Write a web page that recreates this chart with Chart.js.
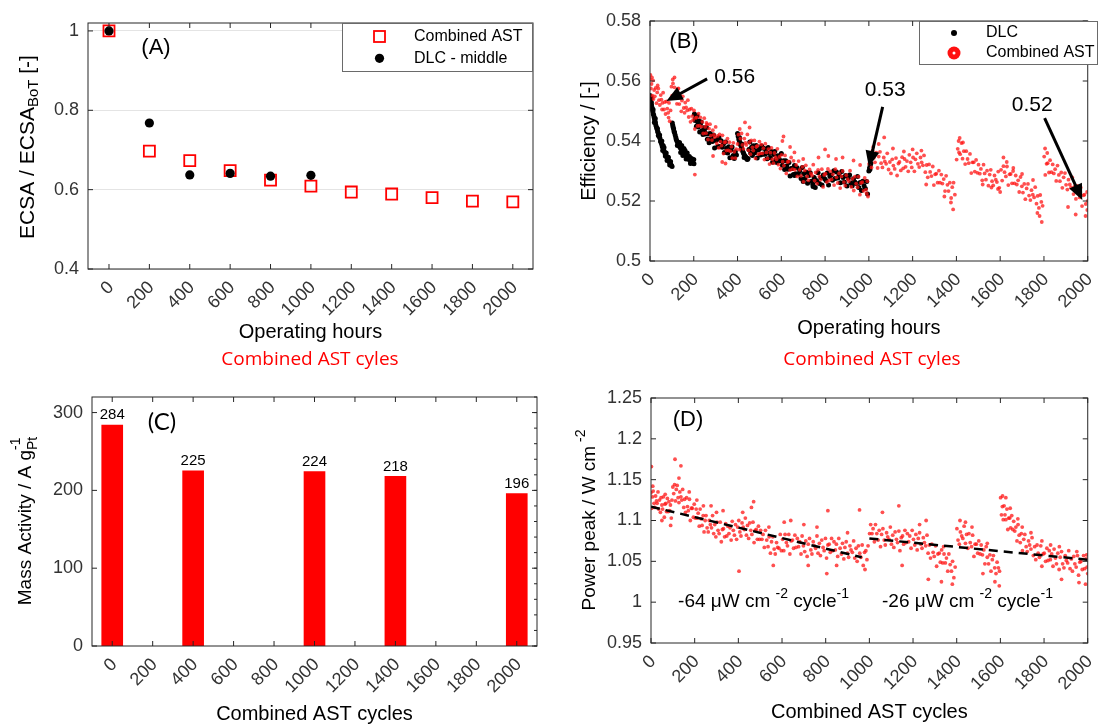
<!DOCTYPE html>
<html>
<head>
<meta charset="utf-8">
<script src="https://cdn.jsdelivr.net/npm/chart.js@4.4.1/dist/chart.umd.min.js"></script>
<style>
  body { margin: 0; background: #fff; width: 1111px; height: 724px; overflow: hidden; position: relative; }
  canvas { position: absolute; }
</style>
</head>
<body>
<canvas id="chartA" width="555" height="370" style="left:0;top:0"></canvas>
<canvas id="chartB" width="556" height="370" style="left:555px;top:0"></canvas>
<canvas id="chartC" width="555" height="354" style="left:0;top:370px"></canvas>
<canvas id="chartD" width="556" height="354" style="left:555px;top:370px"></canvas>
<script>
// ---- data ----
const hourTicks = [0, 200, 400, 600, 800, 1000, 1200, 1400, 1600, 1800, 2000];

// (A) ECSA normalised
const ecsaHours = [0, 200, 400, 600, 800, 1000, 1200, 1400, 1600, 1800, 2000];
const ecsaAST = [1.0, 0.697, 0.673, 0.648, 0.624, 0.609, 0.594, 0.589, 0.580, 0.571, 0.569];
const ecsaDLCHours = [0, 200, 400, 600, 800, 1000];
const ecsaDLC = [1.0, 0.768, 0.637, 0.641, 0.634, 0.636];
const ecsaTicks = [0.4, 0.6, 0.8, 1];

// (B) efficiency, [hours, efficiency]
const effTicks = [0.5, 0.52, 0.54, 0.56, 0.58];
const effDLC = [
  [0,.5552],[1,.5545],[3,.5538],[4,.5530],[6,.5528],[7,.5520],[9,.5512],[11,.5505],[13,.5498],[15,.5490],
  [17,.5486],[19,.5478],[21,.5472],[23,.5466],[25,.5460],[27,.5452],[30,.5445],[32,.5440],[35,.5432],[37,.5428],
  [40,.5420],[42,.5415],[45,.5410],[48,.5400],[50,.5396],[53,.5390],[56,.5382],[59,.5378],[62,.5370],[65,.5366],
  [68,.5360],[71,.5355],[74,.5350],[77,.5345],[80,.5342],[83,.5338],[86,.5334],[89,.5330],[92,.5326],[95,.5322],
  [98,.5318],[101,.5315],[5,.5542],[14,.5505],[24,.5475],[34,.5442],[44,.5420],[54,.5400],[64,.5378],[74,.5360],
  [84,.5346],[94,.5332],[60,.5385],[70,.5350],[20,.5462],[38,.5418],[58,.5368],[78,.5335],[90,.5320],
  [102,.5460],[104,.5452],[106,.5445],[108,.5440],[110,.5432],[112,.5428],[115,.5420],[118,.5412],[120,.5405],[123,.5400],
  [126,.5395],[129,.5390],[132,.5385],[135,.5382],[138,.5378],[141,.5375],[144,.5372],[147,.5368],[150,.5365],[153,.5362],
  [156,.5358],[159,.5355],[162,.5352],[165,.5350],[168,.5348],[171,.5345],[174,.5342],[177,.5340],[180,.5338],[183,.5335],
  [186,.5333],[189,.5332],[192,.5330],[195,.5328],[198,.5326],[201,.5324],[125,.5385],[135,.5395],[145,.5385],[150,.5352],
  [160,.5368],[165,.5340],[170,.5360],[180,.5348],[185,.5325],[190,.5342],[200,.5338],[140,.5362],[155,.5375],
  [203,.5490],[206,.5468],[209,.5477],[212,.5449],[215,.5484],[218,.5463],[221,.5447],[224,.5467],[227,.5430],[230,.5455],
  [234,.5463],[238,.5434],[242,.5422],[246,.5444],[250,.5431],[254,.5423],[258,.5445],[262,.5406],[266,.5423],[270,.5394],
  [275,.5425],[280,.5408],[285,.5398],[290,.5420],[295,.5377],[300,.5402],[305,.5404],[310,.5382],[315,.5411],[320,.5382],
  [325,.5401],[330,.5379],[335,.5389],[340,.5362],[345,.5397],[350,.5376],[355,.5360],[360,.5381],[365,.5344],[370,.5370],
  [375,.5380],[380,.5352],[385,.5342],[390,.5364],[395,.5353],
  [400,.5425],[403,.5415],[406,.5405],[409,.5398],[412,.5390],[415,.5385],[418,.5378],[421,.5372],[424,.5365],[427,.5360],
  [430,.5355],[433,.5350],[436,.5348],[439,.5345],[442,.5340],[445,.5338],[448,.5342],[410,.5410],[420,.5390],[430,.5345],
  [452,.5372],[456,.5397],[460,.5360],[464,.5379],[468,.5352],[472,.5384],[476,.5369],[480,.5361],[485,.5385],[490,.5343],
  [495,.5370],[500,.5373],[505,.5353],[510,.5383],[515,.5356],[520,.5376],[525,.5356],[530,.5367],[535,.5341],[540,.5378],
  [545,.5358],[550,.5344],[555,.5365],[560,.5329],[565,.5355],[570,.5365],[575,.5338],[580,.5328],[585,.5351],[590,.5340],
  [595,.5334],[600,.5358],[605,.5319],[610,.5334],[615,.5305],[620,.5334],[625,.5317],[630,.5306],[635,.5328],[640,.5283],
  [645,.5308],[650,.5308],[655,.5288],[660,.5318],[666,.5291],[672,.5311],[678,.5290],[684,.5301],[690,.5275],[696,.5312],
  [702,.5291],[708,.5275],[714,.5296],[720,.5259],[726,.5285],[732,.5294],[738,.5266],[744,.5256],[750,.5278],[756,.5270],
  [762,.5267],[768,.5294],[774,.5258],[780,.5278],[786,.5253],[792,.5287],[798,.5274],[804,.5268],[810,.5293],[816,.5253],
  [822,.5282],[828,.5287],[834,.5269],[840,.5301],[846,.5275],[852,.5297],[858,.5277],[864,.5287],[870,.5261],[876,.5298],
  [882,.5278],[888,.5263],[894,.5285],[900,.5250],[906,.5276],[912,.5287],[918,.5260],[924,.5251],[930,.5274],[936,.5263],
  [942,.5258],[948,.5282],[954,.5245],[960,.5262],[966,.5235],[972,.5266],[978,.5251],[984,.5242],[990,.5265],[994,.5223],
  [1000,.5300],[1003,.5310],[1006,.5318],[1009,.5325],[1005,.5305],[745,.5248],[755,.5245],[700,.5265],[660,.5285]
];
const effAST = [
  [0,.5606],[4,.5575],[7,.5590],[11,.5551],[14,.5602],[19,.5570],[22,.5549],[26,.5577],[30,.5526],[33,.5562],
  [38,.5575],[41,.5536],[45,.5520],[49,.5553],[52,.5538],[57,.5527],[60,.5561],[64,.5505],[68,.5530],[71,.5490],
  [76,.5532],[79,.5508],[83,.5494],[87,.5527],[90,.5466],[94,.5502],[2,.5620],[9,.5612],[16,.5540],[35,.5585],
  [55,.5505],[85,.5478],
  [98,.5581],[101,.5551],[105,.5592],[108,.5552],[112,.5579],[116,.5548],[119,.5563],[123,.5524],[127,.5574],[131,.5544],
  [134,.5523],[138,.5551],[143,.5499],[146,.5535],[150,.5549],[154,.5510],[158,.5494],[161,.5528],[165,.5512],[170,.5502],
  [173,.5536],[177,.5480],[181,.5505],[185,.5464],[189,.5508],[193,.5483],[197,.5470],[201,.5502],[205,.5440],[209,.5477],
  [112,.5612],[104,.5605],[130,.5575],[205,.5288],
  [213,.5479],[217,.5450],[222,.5491],[226,.5451],[230,.5479],[235,.5448],[239,.5464],[243,.5425],[248,.5476],[252,.5447],
  [256,.5426],[261,.5455],[265,.5405],[270,.5441],[274,.5456],[278,.5418],[283,.5403],[287,.5436],[292,.5421],[296,.5413],
  [300,.5447],[305,.5392],[309,.5417],[314,.5377],[318,.5422],[322,.5398],[327,.5385],[331,.5419],[336,.5358],[340,.5395],
  [345,.5397],[349,.5368],[354,.5408],[358,.5369],[363,.5396],[367,.5366],[372,.5381],[376,.5343],[381,.5394],[385,.5364],
  [390,.5343],[394,.5373],[258,.5460],[288,.5350],[330,.5330],[345,.5325],
  [400,.5390],[404,.5421],[409,.5371],[413,.5408],[418,.5425],[422,.5387],[427,.5374],[431,.5408],[436,.5394],[440,.5387],
  [445,.5422],[450,.5369],[454,.5395],[459,.5356],[463,.5402],[468,.5379],[472,.5368],[477,.5402],[482,.5342],[486,.5381],
  [491,.5384],[495,.5356],[500,.5398],[505,.5359],[509,.5388],[514,.5359],[518,.5376],[523,.5338],[527,.5391],[532,.5362],
  [537,.5342],[541,.5373],[546,.5323],[550,.5361],[555,.5377],[559,.5339],[564,.5326],[569,.5360],[573,.5346],[578,.5339],
  [582,.5374],[587,.5321],[591,.5347],[596,.5308],[434,.5462],[455,.5445],[410,.5440],
  [601,.5354],[606,.5331],[612,.5318],[617,.5352],[623,.5292],[628,.5330],[634,.5332],[640,.5303],[645,.5345],[651,.5306],
  [656,.5334],[662,.5304],[668,.5320],[673,.5282],[679,.5333],[684,.5304],[690,.5284],[696,.5314],[701,.5264],[707,.5302],
  [712,.5319],[718,.5282],[724,.5269],[729,.5305],[735,.5292],[740,.5285],[746,.5321],[752,.5268],[757,.5295],[763,.5258],
  [768,.5304],[774,.5282],[780,.5271],[785,.5306],[791,.5247],[796,.5287],[802,.5291],[808,.5263],[813,.5307],[819,.5269],
  [824,.5299],[830,.5272],[836,.5289],[841,.5253],[847,.5306],[852,.5279],[858,.5260],[864,.5292],[869,.5243],[875,.5282],
  [880,.5300],[886,.5263],[892,.5251],[897,.5286],[903,.5273],[908,.5266],[914,.5301],[920,.5247],[925,.5274],[931,.5235],
  [936,.5281],[942,.5258],[948,.5246],[953,.5281],[959,.5221],[964,.5260],[970,.5263],[976,.5234],[981,.5277],[987,.5238],
  [993,.5266],[640,.5380],[660,.5362],[610,.5415],[605,.5400],[700,.5340],[770,.5345],[800,.5372],[815,.5350],[850,.5340],
  [880,.5345],[930,.5335],[960,.5320],[996,.5215],[990,.5225],
  [1001,.5324],[1006,.5345],[1012,.5312],[1017,.5368],[1023,.5344],[1028,.5329],[1034,.5361],[1040,.5310],[1045,.5348],[1051,.5364],
  [1056,.5326],[1062,.5312],[1068,.5345],[1073,.5332],[1079,.5324],[1084,.5359],[1090,.5305],[1096,.5330],[1101,.5292],[1107,.5339],
  [1112,.5318],[1118,.5307],[1124,.5343],[1129,.5285],[1135,.5325],[1140,.5330],[1146,.5302],[1152,.5346],[1157,.5309],[1163,.5340],
  [1168,.5314],[1174,.5333],[1180,.5299],[1185,.5354],[1191,.5329],[1196,.5312],[1202,.5345],[1208,.5299],[1213,.5339],[1219,.5359],
  [1224,.5324],[1230,.5313],[1236,.5345],[1241,.5329],[1247,.5319],[1252,.5352],[1258,.5296],[1264,.5320],[1269,.5279],[1275,.5322],
  [1280,.5297],[1286,.5283],[1292,.5315],[1297,.5253],[1303,.5289],[1308,.5291],[1314,.5261],[1320,.5301],[1325,.5261],[1331,.5288],
  [1336,.5258],[1342,.5273],[1348,.5233],[1353,.5284],[1359,.5254],[1364,.5233],[1370,.5261],[1376,.5210],[1381,.5246],[1387,.5261],
  [1393,.5221],[1070,.5412],[1045,.5390],[1110,.5375],[1160,.5365],[1200,.5372],[1240,.5368],[1385,.5172],[1375,.5195],[1262,.5255],
  [1345,.5215],[1020,.5380],
  [1401,.5338],[1406,.5374],[1412,.5362],[1417,.5356],[1423,.5393],[1428,.5341],[1434,.5366],[1440,.5323],[1445,.5366],[1451,.5340],
  [1456,.5326],[1462,.5357],[1468,.5293],[1473,.5329],[1479,.5329],[1484,.5298],[1490,.5337],[1496,.5294],[1501,.5321],[1507,.5291],
  [1512,.5307],[1518,.5269],[1524,.5321],[1529,.5292],[1535,.5271],[1540,.5301],[1546,.5251],[1552,.5288],[1557,.5304],[1563,.5266],
  [1568,.5252],[1574,.5285],[1580,.5271],[1585,.5263],[1591,.5298],[1596,.5244],[1415,.5410],[1430,.5395],[1410,.5400],[1520,.5255],
  [1560,.5245],[1600,.5230],[1590,.5240],
  [1604,.5304],[1609,.5268],[1615,.5316],[1620,.5296],[1626,.5282],[1631,.5315],[1637,.5253],[1643,.5289],[1648,.5290],[1654,.5259],
  [1659,.5300],[1665,.5259],[1671,.5285],[1676,.5255],[1682,.5269],[1687,.5230],[1693,.5280],[1699,.5249],[1704,.5228],[1710,.5257],
  [1715,.5206],[1721,.5242],[1727,.5257],[1732,.5218],[1738,.5203],[1743,.5236],[1749,.5221],[1755,.5212],[1760,.5246],[1766,.5191],
  [1771,.5217],[1777,.5177],[1783,.5220],[1788,.5197],[1794,.5184],[1615,.5345],[1630,.5330],[1660,.5310],[1700,.5290],[1750,.5270],
  [1790,.5130],[1780,.5150],[1770,.5160],
  [1801,.5348],[1806,.5287],[1812,.5324],[1817,.5326],[1823,.5295],[1828,.5336],[1834,.5296],[1840,.5322],[1845,.5292],[1851,.5306],
  [1856,.5267],[1862,.5318],[1868,.5287],[1873,.5266],[1879,.5295],[1884,.5244],[1890,.5279],[1896,.5293],[1901,.5254],[1907,.5238],
  [1912,.5271],[1918,.5255],[1924,.5245],[1929,.5279],[1935,.5223],[1940,.5248],[1946,.5207],[1952,.5250],[1957,.5226],[1963,.5212],
  [1968,.5245],[1974,.5183],[1980,.5219],[1985,.5221],[1991,.5190],[1997,.5230],[1805,.5375],[1815,.5360],[1910,.5180],[1945,.5155],
  [1990,.5150],[1998,.5170],[2000,.5200]
];

// (C) mass activity
const massCycles = [0, 400, 1000, 1400, 2000];
const massActivity = [284, 225, 224, 218, 196];
const massTicks = [0, 100, 200, 300];

// (D) peak power, [cycles, W cm-2]
const powerTicks = [0.95, 1, 1.05, 1.1, 1.15, 1.2, 1.25];
const powerPeak = [
  [0,1.134],[3,1.115],[7,1.129],[10,1.136],[14,1.121],[17,1.116],[21,1.130],[25,1.124],[28,1.121],[32,1.135],
  [35,1.114],[39,1.125],[43,1.110],[46,1.128],[50,1.119],[53,1.114],[57,1.129],[61,1.104],[64,1.120],[68,1.121],
  [71,1.111],[75,1.127],[79,1.111],[82,1.123],[86,1.112],[89,1.119],[93,1.103],[96,1.125],[2,1.166],[8,1.142],
  [90,1.094],[50,1.100],[65,1.132],
  [100,1.141],[104,1.133],[108,1.144],[112,1.124],[116,1.138],[120,1.143],[124,1.128],[128,1.122],[132,1.135],[137,1.129],
  [141,1.125],[145,1.138],[150,1.116],[154,1.126],[158,1.110],[163,1.128],[167,1.117],[171,1.112],[176,1.126],[180,1.100],
  [185,1.115],[189,1.115],[194,1.104],[198,1.120],[203,1.103],[207,1.114],[212,1.103],[216,1.109],[221,1.093],[225,1.114],
  [230,1.102],[234,1.094],[239,1.106],[243,1.086],[248,1.100],[252,1.106],[257,1.091],[110,1.175],[137,1.167],[128,1.152],
  [175,1.135],[210,1.125],[240,1.118],
  [262,1.086],[267,1.100],[272,1.095],[277,1.091],[282,1.106],[287,1.084],[292,1.095],[297,1.080],[302,1.098],[307,1.088],
  [312,1.084],[317,1.098],[322,1.074],[327,1.089],[332,1.090],[337,1.080],[342,1.096],[347,1.081],[352,1.093],[357,1.084],
  [362,1.091],[367,1.076],[372,1.099],[377,1.088],[382,1.082],[387,1.095],[392,1.077],[397,1.092],[402,1.100],[407,1.086],
  [412,1.081],[417,1.097],[422,1.092],[427,1.089],[432,1.103],[437,1.082],[442,1.094],[447,1.078],[452,1.097],[457,1.088],
  [462,1.083],[467,1.098],[472,1.073],[477,1.088],[482,1.089],[487,1.077],[492,1.093],[497,1.077],[300,1.110],[330,1.112],
  [403,1.038],[420,1.110],[460,1.116],[470,1.123],[275,1.118],
  [502,1.088],[508,1.077],[513,1.083],[519,1.067],[524,1.088],[530,1.076],[536,1.068],[541,1.080],[547,1.060],[552,1.074],
  [558,1.080],[564,1.065],[569,1.059],[575,1.073],[580,1.067],[586,1.066],[592,1.083],[597,1.063],[603,1.077],[608,1.063],
  [614,1.083],[620,1.073],[625,1.069],[631,1.083],[636,1.059],[642,1.075],[648,1.076],[653,1.066],[659,1.082],[664,1.067],
  [670,1.078],[676,1.068],[681,1.074],[687,1.059],[692,1.081],[698,1.069],[704,1.062],[709,1.075],[715,1.056],[720,1.071],
  [726,1.078],[732,1.064],[737,1.059],[743,1.074],[748,1.069],[754,1.066],[760,1.081],[765,1.060],[771,1.072],[776,1.057],
  [782,1.076],[788,1.067],[793,1.063],[799,1.078],[804,1.054],[810,1.070],[816,1.071],[821,1.061],[827,1.078],[832,1.063],
  [838,1.074],[844,1.064],[849,1.071],[855,1.056],[860,1.078],[866,1.066],[872,1.059],[877,1.072],[883,1.053],[888,1.067],
  [894,1.074],[900,1.060],[905,1.055],[911,1.069],[916,1.064],[922,1.061],[928,1.075],[933,1.054],[939,1.066],[944,1.050],
  [950,1.069],[956,1.060],[961,1.055],[967,1.070],[972,1.045],[978,1.061],[984,1.063],[989,1.052],[994,1.069],
  [540,1.092],[560,1.045],[610,1.098],[640,1.100],[700,1.095],[720,1.045],[760,1.092],[805,1.035],[810,1.112],[850,1.045],
  [900,1.085],[955,1.113],[980,1.040],
  [1001,1.084],[1006,1.095],[1012,1.084],[1017,1.090],[1023,1.074],[1028,1.095],[1034,1.084],[1040,1.076],[1045,1.088],[1051,1.068],
  [1056,1.083],[1062,1.090],[1068,1.076],[1073,1.070],[1079,1.085],[1084,1.080],[1090,1.077],[1096,1.092],[1101,1.071],[1107,1.082],
  [1112,1.067],[1118,1.086],[1124,1.077],[1129,1.073],[1135,1.087],[1140,1.063],[1146,1.079],[1152,1.081],[1157,1.071],[1163,1.088],
  [1168,1.073],[1174,1.084],[1180,1.074],[1185,1.081],[1191,1.066],[1196,1.088],[1202,1.077],[1208,1.070],[1213,1.083],[1219,1.064],
  [1224,1.078],[1230,1.085],[1236,1.071],[1241,1.066],[1247,1.079],[1252,1.073],[1258,1.069],[1264,1.082],[1269,1.060],[1275,1.070],
  [1280,1.054],[1286,1.071],[1292,1.061],[1297,1.056],[1303,1.069],[1308,1.044],[1314,1.059],[1320,1.060],[1325,1.049],[1331,1.064],
  [1336,1.048],[1342,1.059],[1348,1.048],[1353,1.054],[1359,1.038],[1364,1.059],[1370,1.046],[1376,1.038],[1381,1.050],[1387,1.030],
  [1393,1.043],[1060,1.110],[1135,1.118],[1150,1.045],[1230,1.095],[1260,1.100],[1270,1.028],[1330,1.025],[1380,1.022],[1340,1.068],
  [1401,1.090],[1406,1.076],[1412,1.071],[1417,1.086],[1423,1.081],[1428,1.078],[1434,1.093],[1440,1.072],[1445,1.083],[1451,1.066],
  [1456,1.084],[1462,1.073],[1468,1.068],[1473,1.082],[1479,1.056],[1484,1.071],[1490,1.071],[1496,1.060],[1501,1.075],[1507,1.059],
  [1512,1.070],[1518,1.058],[1524,1.064],[1529,1.047],[1535,1.068],[1540,1.055],[1546,1.047],[1552,1.058],[1557,1.038],[1563,1.052],
  [1568,1.057],[1574,1.042],[1580,1.035],[1585,1.049],[1591,1.042],[1596,1.038],[1415,1.100],[1440,1.098],[1470,1.092],[1540,1.072],
  [1575,1.025],[1595,1.020],[1520,1.035],
  [1601,1.128],[1605,1.107],[1609,1.117],[1613,1.101],[1617,1.118],[1621,1.107],[1625,1.101],[1630,1.114],[1634,1.089],[1638,1.103],
  [1643,1.103],[1647,1.091],[1652,1.106],[1657,1.089],[1661,1.099],[1666,1.087],[1671,1.092],[1676,1.075],[1681,1.095],[1686,1.082],
  [1691,1.073],[1696,1.084],[1701,1.063],[1707,1.077],[1712,1.083],[1718,1.068],[1723,1.062],[1729,1.075],[1734,1.070],[1740,1.065],
  [1745,1.079],[1751,1.057],[1757,1.068],[1762,1.052],[1768,1.070],[1773,1.060],[1779,1.055],[1785,1.069],[1790,1.044],[1796,1.059],
  [1801,1.060],[1807,1.050],[1813,1.066],[1818,1.051],[1824,1.063],[1829,1.052],[1835,1.059],[1841,1.044],[1846,1.065],[1852,1.054],
  [1857,1.047],[1863,1.060],[1869,1.040],[1874,1.055],[1880,1.062],[1885,1.047],[1891,1.042],[1897,1.057],[1902,1.051],[1908,1.048],
  [1913,1.063],[1919,1.041],[1925,1.053],[1930,1.038],[1936,1.056],[1941,1.047],[1947,1.043],[1953,1.057],[1958,1.033],[1964,1.049],
  [1969,1.050],[1975,1.040],[1981,1.057],[1986,1.041],[1992,1.053],[1997,1.043],[1610,1.130],[1625,1.128],[1645,1.115],[1680,1.102],
  [1700,1.092],[1740,1.085],[1790,1.075],[1830,1.070],[1870,1.068],[1950,1.062],[1995,1.058],[1880,1.028],[1960,1.024],[1990,1.022],
  [2000,1.035]
];
const trendEarly = [[0, 1.117], [965, 1.055]];
const trendLate = [[1000, 1.078], [2000, 1.052]];
const slopeValues = ['-64', '-26'];

// ---- drawing helpers ----
const FONT = "'Liberation Sans', Arial, sans-serif";
Chart.defaults.font.family = FONT;
Chart.defaults.color = '#333';

const toXY = arr => arr.map(p => ({ x: p[0], y: p[1] }));

function drawRich(ctx, parts, x, y, rot, align) {
  ctx.save();
  ctx.translate(x, y);
  ctx.rotate(rot);
  ctx.textBaseline = 'middle';
  ctx.textAlign = 'left';
  ctx.fillStyle = '#000';
  let total = 0;
  parts.forEach(p => {
    ctx.font = p.s + 'px ' + FONT;
    if (!p.stack) total += ctx.measureText(p.t).width;
  });
  let cx = align === 'left' ? 0 : -total / 2;
  parts.forEach(p => {
    ctx.font = p.s + 'px ' + FONT;
    ctx.fillText(p.t, cx, p.dy || 0);
    if (!p.stack) cx += ctx.measureText(p.t).width;
  });
  ctx.restore();
}

function label(ctx, text, x, y, size, color, family) {
  ctx.save();
  ctx.font = size + 'px ' + (family || FONT);
  ctx.fillStyle = color || '#000';
  ctx.textAlign = 'center';
  ctx.textBaseline = 'middle';
  ctx.fillText(text, x, y);
  ctx.restore();
}

// matlab style box with inward ticks
const axesBox = {
  id: 'axesBox',
  afterDatasetsDraw(chart, args, opts) {
    const { ctx, chartArea: a, scales: { x, y } } = chart;
    ctx.save();
    ctx.strokeStyle = '#262626';
    ctx.lineWidth = 1;
    ctx.beginPath();
    x.ticks.forEach(t => {
      const px = x.getPixelForValue(t.value);
      ctx.moveTo(px, a.bottom); ctx.lineTo(px, a.bottom - 5);
      ctx.moveTo(px, a.top); ctx.lineTo(px, a.top + 5);
    });
    y.ticks.forEach(t => {
      const py = y.getPixelForValue(t.value);
      ctx.moveTo(a.left, py); ctx.lineTo(a.left + 5, py);
      ctx.moveTo(a.right, py); ctx.lineTo(a.right - 5, py);
    });
    if (opts.minorRight) {
      for (let v = y.min; v <= y.max; v += opts.minorRight) {
        const py = y.getPixelForValue(v);
        ctx.moveTo(a.right, py); ctx.lineTo(a.right - 3, py);
      }
    }
    ctx.stroke();
    ctx.strokeRect(a.left, a.top, a.width, a.height);
    ctx.restore();
  }
};

function baseOptions(c) {
  return {
    responsive: false,
    animation: false,
    devicePixelRatio: 1,
    events: [],
    layout: { padding: c.pad },
    plugins: { legend: { display: false }, tooltip: { enabled: false }, axesBox: { minorRight: c.minorRight || 0 } },
    scales: {
      x: {
        type: 'linear', min: c.xMin, max: c.xMax, offset: false,
        afterBuildTicks: s => { s.ticks = hourTicks.map(v => ({ value: v })); },
        afterFit: s => { s.height = c.xHeight; },
        grid: { display: false, drawTicks: false },
        border: { display: false },
        ticks: { minRotation: 45, maxRotation: 45, autoSkip: false, padding: 8, labelOffset: 2,
                 font: { size: 18 }, color: '#333', callback: v => String(v) },
        title: { display: true, text: c.xTitle, color: '#000', font: { size: 20, lineHeight: 1 },
                 padding: { top: 0, bottom: c.titlePad } }
      },
      y: {
        type: 'linear', min: c.yMin, max: c.yMax,
        afterBuildTicks: s => { s.ticks = c.yTicks.map(v => ({ value: v })); },
        afterFit: s => { s.width = c.yWidth; },
        grid: c.yGrid ? { color: '#e4e4e4', drawTicks: false } : { display: false, drawTicks: false },
        border: { display: false },
        ticks: { padding: 9, font: { size: 18 }, color: '#333', callback: v => String(+v.toFixed(3)) }
      }
    }
  };
}

// ---- (A) ----
new Chart(document.getElementById('chartA'), {
  type: 'scatter',
  data: {
    datasets: [
      { label: 'Combined AST', data: ecsaHours.map((h, i) => ({ x: h, y: ecsaAST[i] })),
        pointStyle: 'rect', pointRadius: 7.8, borderColor: '#ff0000', borderWidth: 1.8,
        backgroundColor: 'rgba(0,0,0,0)', order: 1 },
      { label: 'DLC - middle', data: ecsaDLCHours.map((h, i) => ({ x: h, y: ecsaDLC[i] })),
        pointStyle: 'circle', pointRadius: 4.6, borderWidth: 0, backgroundColor: '#000', order: 0 }
    ]
  },
  options: baseOptions({ pad: { top: 23, right: 22, left: 0, bottom: 0 }, xMin: -104, xMax: 2100, xHeight: 101,
    xTitle: 'Operating hours', titlePad: 28, yMin: 0.4, yMax: 1.02, yTicks: ecsaTicks, yWidth: 88, yGrid: true }),
  plugins: [axesBox, {
    id: 'extrasA',
    afterDraw(chart) {
      const ctx = chart.ctx;
      drawRich(ctx, [{ t: 'ECSA / ECSA', s: 21 }, { t: 'BoT', s: 15, dy: 6 }, { t: ' [-]', s: 21 }], 28, 147, -Math.PI / 2);
      label(ctx, '(A)', 156, 48, 22);
      label(ctx, 'Combined AST cyles', 310, 360, 19, '#ff0000', "'Open Sans', sans-serif");
      // legend
      ctx.save();
      ctx.fillStyle = '#fff';
      ctx.fillRect(342, 23, 190, 48);
      ctx.strokeStyle = '#6a6a6a';
      ctx.lineWidth = 1;
      ctx.strokeRect(342.5, 23.5, 190, 48);
      ctx.strokeStyle = '#ff0000';
      ctx.lineWidth = 1.8;
      ctx.strokeRect(374, 31, 11, 11);
      ctx.fillStyle = '#000';
      ctx.beginPath(); ctx.arc(379.5, 58.3, 4.6, 0, Math.PI * 2); ctx.fill();
      ctx.font = '16px ' + FONT;
      ctx.textBaseline = 'middle';
      ctx.fillText('Combined AST', 414, 37);
      ctx.fillText('DLC - middle', 414, 59);
      ctx.restore();
    }
  }]
});

// ---- (B) ----
const arrowNotes = [
  { text: '0.56', tx: 387, ty: 0.5613, x0: 261, y0: 0.5607, x1: 75, y1: 0.5533 },
  { text: '0.53', tx: 1075, ty: 0.5568, x0: 1063, y0: 0.5514, x1: 1000, y1: 0.5314 },
  { text: '0.52', tx: 1746, ty: 0.552, x0: 1803, y0: 0.5476, x1: 1975, y1: 0.5203 }
];
new Chart(document.getElementById('chartB'), {
  type: 'scatter',
  data: {
    datasets: [
      { label: 'DLC', data: toXY(effDLC), pointRadius: 2.5, borderWidth: 0, backgroundColor: '#000', order: 1 },
      { label: 'Combined AST', data: toXY(effAST), pointRadius: 1.9, borderWidth: 0,
        backgroundColor: 'rgba(255,20,20,0.75)', order: 0 }
    ]
  },
  options: baseOptions({ pad: { top: 21, right: 14, left: 0, bottom: 0 }, xMin: 0, xMax: 2000, xHeight: 109,
    xTitle: 'Operating hours', titlePad: 32, yMin: 0.5, yMax: 0.58, yTicks: effTicks, yWidth: 95 }),
  plugins: [axesBox, {
    id: 'extrasB',
    afterDraw(chart) {
      const { ctx, scales: { x, y } } = chart;
      drawRich(ctx, [{ t: 'Efficiency / [-]', s: 20 }], 34, 141, -Math.PI / 2);
      label(ctx, '(B)', 129, 42, 22);
      label(ctx, 'Combined AST cyles', 317, 360, 19, '#ff0000', "'Open Sans', sans-serif");
      ctx.save();
      arrowNotes.forEach(n => {
        const ax = x.getPixelForValue(n.x0), ay = y.getPixelForValue(n.y0);
        const bx = x.getPixelForValue(n.x1), by = y.getPixelForValue(n.y1);
        const ang = Math.atan2(by - ay, bx - ax);
        const head = 16;
        ctx.strokeStyle = '#000';
        ctx.fillStyle = '#000';
        ctx.lineWidth = 3;
        ctx.beginPath();
        ctx.moveTo(ax, ay);
        ctx.lineTo(bx - Math.cos(ang) * head * 0.8, by - Math.sin(ang) * head * 0.8);
        ctx.stroke();
        ctx.beginPath();
        ctx.moveTo(bx, by);
        ctx.lineTo(bx - Math.cos(ang) * head + Math.sin(ang) * 7, by - Math.sin(ang) * head - Math.cos(ang) * 7);
        ctx.lineTo(bx - Math.cos(ang) * head - Math.sin(ang) * 7, by - Math.sin(ang) * head + Math.cos(ang) * 7);
        ctx.closePath();
        ctx.fill();
        label(ctx, n.text, x.getPixelForValue(n.tx), y.getPixelForValue(n.ty), 21);
      });
      // legend
      ctx.fillStyle = '#fff';
      ctx.fillRect(364, 21, 178, 43);
      ctx.strokeStyle = '#6a6a6a';
      ctx.lineWidth = 1;
      ctx.strokeRect(364.5, 21.5, 178, 43);
      ctx.fillStyle = '#000';
      ctx.beginPath(); ctx.arc(399, 33, 3, 0, Math.PI * 2); ctx.fill();
      ctx.fillStyle = '#ff1010';
      ctx.beginPath(); ctx.arc(399, 53, 6.5, 0, Math.PI * 2); ctx.fill();
      ctx.fillStyle = '#fff';
      ctx.beginPath(); ctx.arc(399, 53, 1.5, 0, Math.PI * 2); ctx.fill();
      ctx.fillStyle = '#000';
      ctx.font = '16px ' + FONT;
      ctx.textBaseline = 'middle';
      ctx.fillText('DLC', 431, 33);
      ctx.fillText('Combined AST', 431, 53);
      ctx.restore();
    }
  }]
});

// ---- (C) ----
new Chart(document.getElementById('chartC'), {
  type: 'bar',
  data: {
    datasets: [{ data: massCycles.map((c, i) => ({ x: c, y: massActivity[i] })),
      backgroundColor: '#ff0000', borderWidth: 0, barThickness: 21 }]
  },
  options: baseOptions({ pad: { top: 27, right: 18, left: 0, bottom: 0 }, xMin: -100, xMax: 2100, xHeight: 78,
    xTitle: 'Combined AST cycles', titlePad: 0, yMin: 0, yMax: 320, yTicks: massTicks, yWidth: 92, minorRight: 20 }),
  plugins: [axesBox, {
    id: 'extrasC',
    afterDraw(chart) {
      const ctx = chart.ctx;
      chart.getDatasetMeta(0).data.forEach((bar, i) => {
        label(ctx, String(massActivity[i]), bar.x, bar.y - 10, 15);
      });
      drawRich(ctx, [{ t: 'Mass Activity / A g', s: 19 }, { t: '-1', s: 14, dy: -10, stack: true },
        { t: 'Pt', s: 14, dy: 7 }], 26, 151, -Math.PI / 2);
      label(ctx, '(C)', 162, 52, 24, '#000', "Lato, 'Open Sans', sans-serif");
    }
  }]
});

// ---- (D) ----
new Chart(document.getElementById('chartD'), {
  type: 'scatter',
  data: {
    datasets: [
      { data: toXY(trendEarly), showLine: true, borderColor: '#000', borderWidth: 2.5, borderDash: [9, 6],
        pointRadius: 0, order: 0 },
      { data: toXY(trendLate), showLine: true, borderColor: '#000', borderWidth: 2.5, borderDash: [9, 6],
        pointRadius: 0, order: 0 },
      { data: toXY(powerPeak), pointRadius: 1.9, borderWidth: 0, backgroundColor: 'rgba(255,20,20,0.75)', order: 1 }
    ]
  },
  options: baseOptions({ pad: { top: 28, right: 12, left: 0, bottom: 0 }, xMin: 0, xMax: 2000, xHeight: 81,
    xTitle: 'Combined AST cycles', titlePad: 2, yMin: 0.95, yMax: 1.25, yTicks: powerTicks, yWidth: 96 }),
  plugins: [axesBox, {
    id: 'extrasD',
    afterDraw(chart) {
      const { ctx, scales: { x, y } } = chart;
      drawRich(ctx, [{ t: 'Power peak / W cm', s: 19 }, { t: ' -2', s: 14, dy: -9 }], 35, 150, -Math.PI / 2);
      label(ctx, '(D)', 133, 50, 22);
      [124, 1058].forEach((c, i) => {
        drawRich(ctx, [{ t: slopeValues[i] + ' μW cm ', s: 19 }, { t: '-2', s: 14, dy: -8 },
          { t: ' cycle', s: 19 }, { t: '-1', s: 14, dy: -8 }], x.getPixelForValue(c), y.getPixelForValue(1.0), 0, 'left');
      });
    }
  }]
});
</script>
</body>
</html>
